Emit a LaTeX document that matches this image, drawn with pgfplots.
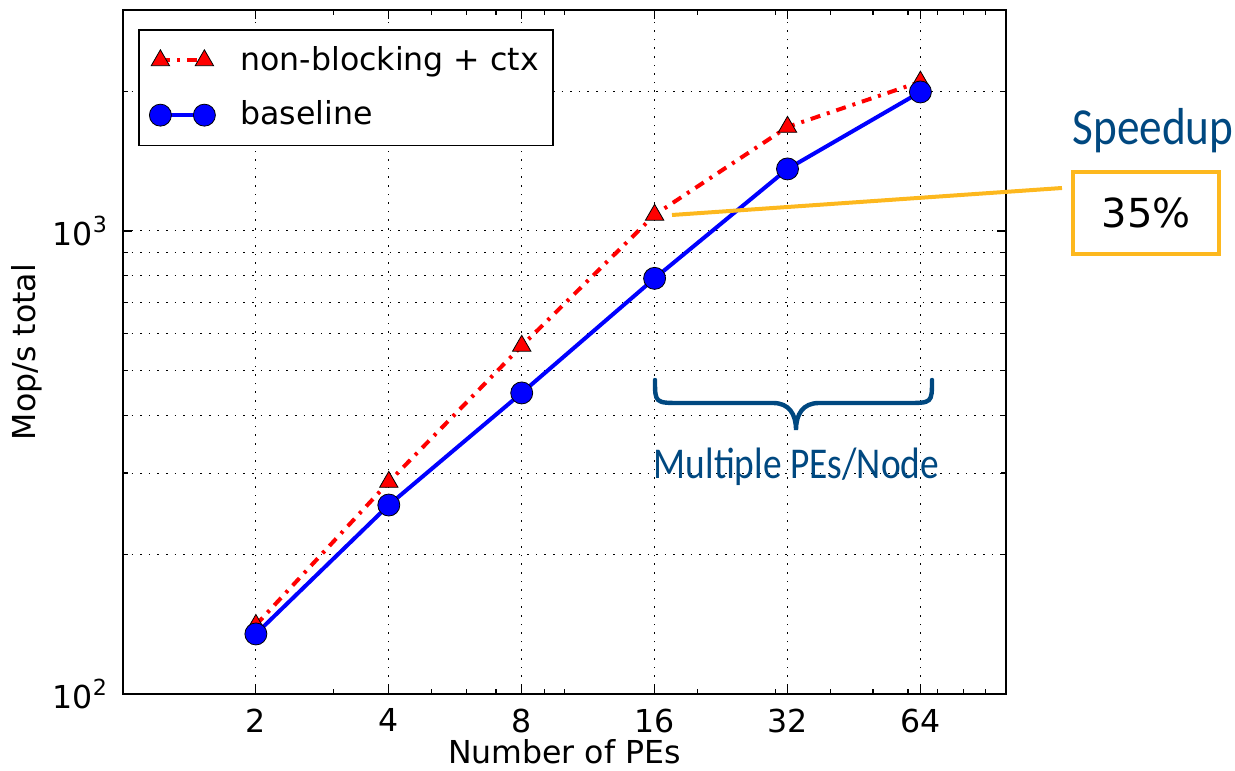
\documentclass[border=0pt]{standalone}
\usepackage{pgfplots}
\pgfplotsset{compat=1.18}
\usepackage{fontspec}
\setmainfont{DejaVu Sans}
\newfontfamily\annfont{Carlito}
\definecolor{intelblue}{RGB}{0,72,128}
\definecolor{speedorange}{RGB}{253,184,30}
\begin{document}
\fontsize{15.8bp}{19bp}\selectfont
\begin{tikzpicture}
\begin{axis}[
  at={(0,0)}, anchor=south west,
  scale only axis, width=441.5bp, height=342bp,
  xmode=log, ymode=log,
  xmin=1, xmax=100, ymin=100, ymax=3000,
  xtick={2,4,8,16,32,64}, xticklabels={2,4,8,16,32,64},
  minor xtick={3,5,6,7,9,10,20,30,40,50,60,70,80,90},
  ytick={100,1000}, yticklabels={10\textsuperscript{2},10\textsuperscript{3}},
  minor ytick={200,300,400,500,600,700,800,900,2000,3000},
  tick align=inside, xtick pos=both, ytick pos=both,
  major tick length=4.5bp, minor tick length=2.5bp,
  every tick/.style={black, line width=0.6bp},
  axis line style={line width=1bp},
  xmajorgrids, ymajorgrids, yminorgrids,
  grid style={black, line width=0.5bp, dash pattern=on 0.8bp off 3.5bp},
  tick label style={font=\fontsize{15.8bp}{19bp}\selectfont},
  label style={font=\fontsize{15.8bp}{19bp}\selectfont},
  xlabel={Number of PEs}, ylabel={Mop/s total},
  xlabel style={at={(axis description cs:0.5,0)}, anchor=base, yshift=-35bp},
  ylabel style={at={(axis description cs:-0.1087,0.5)}, anchor=center},
  xticklabel style={yshift=-2bp},
  yticklabel style={xshift=-2bp},
  clip=false,
  legend cell align=left,
  legend style={at={(0.01755,0.972)}, anchor=north west, draw=black, line width=0.9bp,
    fill=white, font=\fontsize{15.8bp}{19bp}\selectfont, inner xsep=5bp, inner ysep=6bp,
    row sep=9bp, nodes={inner sep=2bp}},
  legend image code/.code={\draw[#1] plot coordinates {(0bp,0bp) (22bp,0bp)};
    \path[draw=none, fill=none] (0bp,0bp) rectangle (38bp,0.1bp);},
]
\addplot[red, line width=2bp, dash pattern=on 5bp off 3.5bp on 1.5bp off 3.5bp,
  mark=triangle*, mark size=5.3bp,
  mark options={solid, fill=red, draw=black, line width=0.4bp}]
  coordinates {(2,140.9) (4,287) (8,564.6) (16,1083) (32,1677) (64,2099)};
\addlegendentry{non-blocking + ctx}
\addplot[blue, line width=2bp, mark=*, mark size=5.5bp,
  mark options={solid, fill=blue, draw=black, line width=0.4bp}]
  coordinates {(2,134.8) (4,255.9) (8,446.8) (16,790) (32,1361) (64,1996)};
\addlegendentry{baseline}
\end{axis}
% annotations (bp relative to axis south-west corner)
\draw[speedorange, line width=2bp] (274.5bp,239.5bp) -- (469.5bp,253bp);
\draw[speedorange, line width=2.2bp, fill=white] (475bp,220bp) rectangle (548bp,261bp);
\node[anchor=center, font=\fontsize{20bp}{24bp}\selectfont] at (511.5bp,240.5bp) {35\%};
\node[anchor=base, text=intelblue, font=\annfont\fontsize{26bp}{30bp}\selectfont, inner sep=0pt] at (515bp,274.5bp) {\scalebox{0.87}[1]{Speedup}};
\draw[intelblue, line width=2.2bp, line cap=round]
  (266bp,157bp) .. controls (266bp,145.5bp) .. (279bp,145.5bp)
  -- (325bp,145.5bp) .. controls (333bp,145.5bp) and (336.5bp,140bp) .. (336.5bp,132bp)
  .. controls (336.5bp,140bp) and (340bp,145.5bp) .. (348bp,145.5bp)
  -- (392bp,145.5bp) .. controls (404.5bp,145.5bp) .. (404.5bp,157bp);
\node[anchor=base, text=intelblue, font=\annfont\fontsize{22bp}{26bp}\selectfont, inner sep=0pt] at (336.75bp,107.5bp) {\scalebox{0.85}[1]{Multiple PEs/Node}};
\pgfresetboundingbox
\path[use as bounding box] (-61.5bp,-38.5bp) rectangle (556bp,347bp);
\end{tikzpicture}
\end{document}
